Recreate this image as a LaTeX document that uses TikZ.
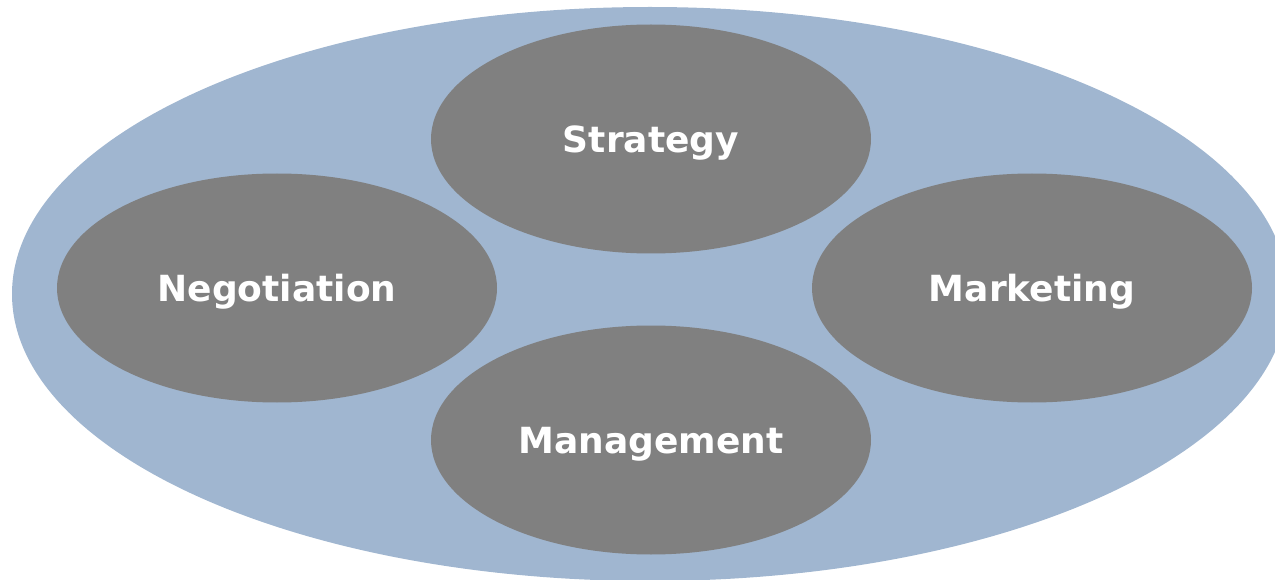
\documentclass[tikz,border=0pt]{standalone}
\usepackage{fontspec}
\setmainfont{DejaVu Sans}
\usetikzlibrary{shapes.geometric}
\definecolor{outerblue}{HTML}{A0B6D0}
\definecolor{innergray}{HTML}{808080}
\tikzset{
  outerfill/.style={fill=outerblue},
  topic/.style={ellipse, fill=innergray, draw=none, inner sep=0pt,
    minimum width=440pt, minimum height=229pt,
    text=white, font=\fontsize{36}{40}\selectfont\bfseries,
    text height=27pt, text depth=0pt}
}
\begin{document}
\begin{tikzpicture}[x=1pt,y=-1pt]
\useasboundingbox (0,0) rectangle (1275,580);
\begin{scope}
  \clip (0,0) rectangle (1275,580);
  \fill[outerfill] (650,294) ellipse [x radius=638, y radius=287];
\end{scope}
\node[topic] (strategy)    at (651,139)   {Strategy};
\node[topic] (negotiation) at (277,288)   {Negotiation};
\node[topic] (marketing)   at (1032,288)  {Marketing};
\node[topic] (management)  at (651,440)   {Management};
\end{tikzpicture}
\end{document}
